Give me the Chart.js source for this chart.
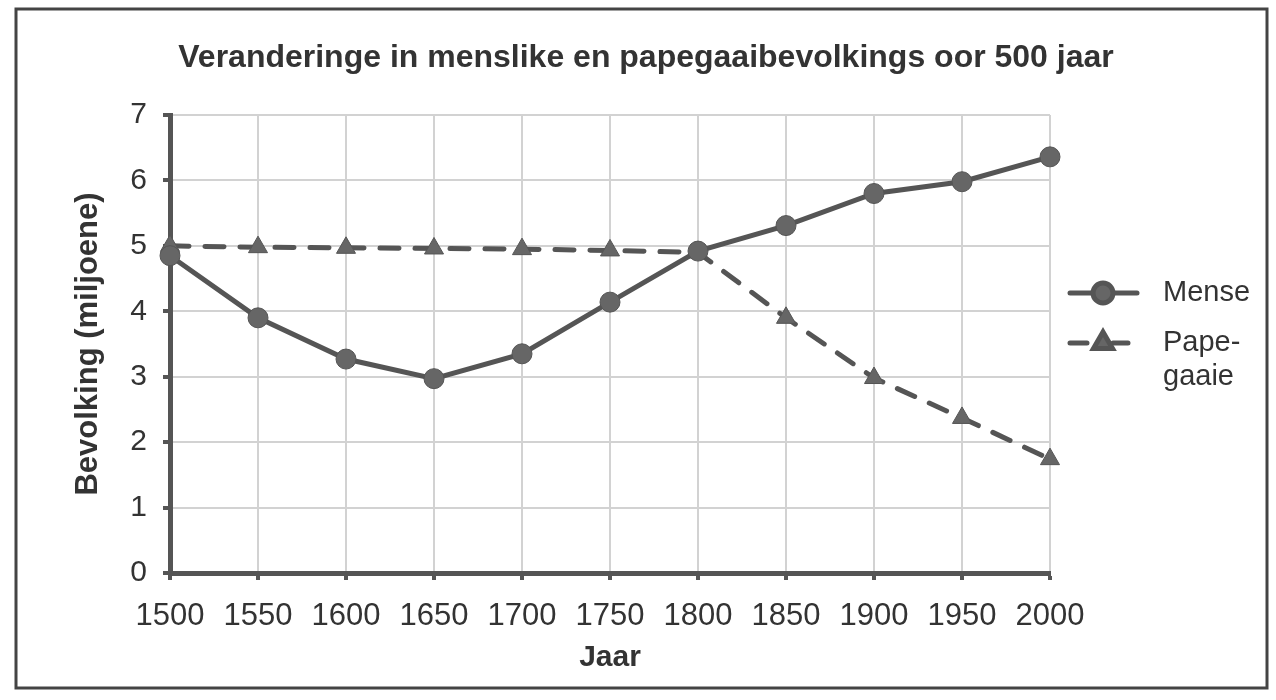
<!DOCTYPE html>
<html>
<head>
<meta charset="utf-8">
<script src="https://cdn.jsdelivr.net/npm/chart.js@4.4.1/dist/chart.umd.min.js"></script>
<style>
  body { margin: 0; background: #fff; }
  #wrap { position: relative; width: 1276px; height: 700px; }
  #title {
    position: absolute; left: 0; width: 1292px; top: 38px;
    text-align: center; font: bold 32px "Liberation Sans", Arial, sans-serif; color: #333;
  }
  canvas { position: absolute; left: 0; top: 0; }
</style>
</head>
<body>
<div id="wrap">
  <canvas id="chart" width="1276" height="700"></canvas>
  <div id="title">Veranderinge in menslike en papegaaibevolkings oor 500 jaar</div>
</div>
<script>
const jaar = [1500, 1550, 1600, 1650, 1700, 1750, 1800, 1850, 1900, 1950, 2000];
const mense = [4.85, 3.9, 3.27, 2.97, 3.35, 4.14, 4.92, 5.31, 5.8, 5.98, 6.36];
const papegaaie = [5.0, 4.98, 4.97, 4.96, 4.95, 4.93, 4.9, 3.9, 2.98, 2.37, 1.74];
const yTicks = [0, 1, 2, 3, 4, 5, 6, 7];

const fontFamily = '"Liberation Sans", Arial, sans-serif';
const ink = '#333';
const lineColor = '#555';

// frame round the whole figure and the legend on the right
const extras = {
    id: 'extras',
    beforeDraw(chart) {
        const ctx = chart.ctx;
        ctx.save();
        ctx.strokeStyle = '#444';
        ctx.lineWidth = 3;
        ctx.strokeRect(16, 9, 1251, 679);
        ctx.restore();
    },
    afterDraw(chart) {
        const ctx = chart.ctx;
        const rows = [
            { ds: chart.data.datasets[0], y: 293, text: ['Mense'] },
            { ds: chart.data.datasets[1], y: 343, text: ['Pape-', 'gaaie'] }
        ];
        ctx.save();
        rows.forEach(r => {
            ctx.strokeStyle = r.ds.borderColor;
            ctx.lineWidth = r.ds.borderWidth;
            ctx.lineCap = 'round';
            ctx.beginPath();
            if (r.ds.borderDash) {
                ctx.moveTo(1070, r.y); ctx.lineTo(1087, r.y);
                ctx.moveTo(1113, r.y); ctx.lineTo(1128, r.y);
            } else {
                ctx.moveTo(1070, r.y); ctx.lineTo(1137, r.y);
            }
            ctx.stroke();
            ctx.fillStyle = r.ds.backgroundColor;
            ctx.strokeStyle = r.ds.pointBorderColor;
            Chart.helpers.drawPoint(ctx, {
                pointStyle: r.ds.pointStyle,
                radius: r.ds.pointRadius,
                borderWidth: 1
            }, 1103, r.y);
            ctx.fillStyle = ink;
            ctx.font = '29px ' + fontFamily;
            ctx.textBaseline = 'middle';
            r.text.forEach((t, i) => ctx.fillText(t, 1163, r.y + i * 34));
        });
        ctx.restore();
    }
};

const pts = vals => jaar.map((x, i) => ({ x: x, y: vals[i] }));

new Chart(document.getElementById('chart').getContext('2d'), {
    type: 'line',
    data: {
        datasets: [{
            label: 'Mense',
            data: pts(mense),
            borderColor: lineColor,
            backgroundColor: '#666',
            borderWidth: 5,
            pointStyle: 'circle',
            pointRadius: 10,
            pointBorderColor: '#555',
            pointBorderWidth: 1,
            clip: false,
            tension: 0
        }, {
            label: 'Papegaaie',
            data: pts(papegaaie),
            borderColor: lineColor,
            backgroundColor: '#666',
            borderWidth: 5,
            borderDash: [19, 16],
            borderCapStyle: 'round',
            pointStyle: 'triangle',
            pointRadius: 11,
            pointBorderColor: '#555',
            pointBorderWidth: 1,
            clip: false,
            tension: 0
        }]
    },
    options: {
        responsive: false,
        animation: false,
        layout: { padding: { left: 66, right: 226, top: 115, bottom: 20 } },
        plugins: {
            legend: { display: false },
            tooltip: { enabled: false }
        },
        scales: {
            x: {
                type: 'linear',
                min: 1500,
                max: 2000,
                afterBuildTicks: s => { s.ticks = jaar.map(v => ({ value: v })); },
                afterFit: s => { s.height = 107; },
                border: { color: lineColor, width: 5 },
                grid: { color: '#d2d2d2', lineWidth: 2, tickLength: 7, tickColor: lineColor, tickWidth: 4 },
                ticks: {
                    color: ink, padding: 18,
                    font: { family: fontFamily, size: 31 },
                    callback: v => String(v)
                },
                title: {
                    display: true, text: 'Jaar', color: ink,
                    font: { family: fontFamily, size: 30, weight: 'bold' }
                }
            },
            y: {
                min: 0,
                max: 7,
                afterBuildTicks: s => { s.ticks = yTicks.map(v => ({ value: v })); },
                afterFit: s => { s.width = 104; },
                border: { color: lineColor, width: 5 },
                grid: { color: '#d2d2d2', lineWidth: 2, tickLength: 7, tickColor: lineColor, tickWidth: 4 },
                ticks: {
                    color: ink, padding: 16,
                    font: { family: fontFamily, size: 30 }
                },
                title: {
                    display: true, text: 'Bevolking (miljoene)', color: ink,
                    font: { family: fontFamily, size: 31, weight: 'bold' }
                }
            }
        }
    },
    plugins: [extras]
});
</script>
</body>
</html>
